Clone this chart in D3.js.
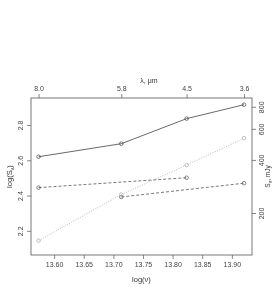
<!DOCTYPE html>
<html>
<head>
<meta charset="utf-8">
<script src="https://cdn.jsdelivr.net/npm/d3@7"></script>
<style>
  body { margin: 0; background: #fff; }
  svg { font-family: "Liberation Sans", Arial, sans-serif; will-change: transform; -webkit-font-smoothing: antialiased; }
</style>
</head>
<body>
<svg id="chart" width="275" height="287"></svg>
<script>
// IRAC bands, wavelength in micron
const bands = [8.0, 5.8, 4.5, 3.6];
const C_UM = 2.998e14; // speed of light, micron/s

// log(S_nu) per series, null where a band has no point
const solidSeries = [2.620, 2.694, 2.836, 2.915];
const dottedSeries = [2.144, 2.406, 2.573, 2.725];
const dashedA = [2.445, null, 2.501, null];
const dashedB = [null, 2.392, null, 2.470];

const xTicks = [13.60, 13.65, 13.70, 13.75, 13.80, 13.85, 13.90];
const yTicks = [2.2, 2.4, 2.6, 2.8];
const fluxTicks = [200, 400, 600, 800];

const svg = d3.select('#chart');
const mLeft = 31, mRight = 252, mTop = 98, mBottom = 255;

const xScale = d3.scaleLinear().domain([13.561, 13.934]).range([mLeft, mRight]);
const yScale = d3.scaleLinear().domain([2.063, 2.953]).range([mBottom, mTop]);

const logNu = (lam) => Math.log10(C_UM / lam);
const axisColor = '#555';
const fontSize = 7;

// Bottom axis
const bottomAxis = svg.append('g')
  .attr('transform', `translate(0, ${mBottom})`)
  .call(d3.axisBottom(xScale).tickValues(xTicks).tickFormat(d3.format('.2f')).tickSize(4).tickPadding(3));

// Left axis, labels parallel to the axis
const leftAxis = svg.append('g')
  .attr('transform', `translate(${mLeft}, 0)`)
  .call(d3.axisLeft(yScale).tickValues(yTicks).tickFormat(d3.format('.1f')).tickSize(4).tickPadding(3));
leftAxis.selectAll('.tick text')
  .attr('x', 0)
  .attr('text-anchor', 'middle')
  .attr('transform', 'translate(-10, 0) rotate(-90)')
  .attr('dy', '0.35em');

// Top axis (wavelength)
const topAxis = svg.append('g')
  .attr('transform', `translate(0, ${mTop})`)
  .call(d3.axisTop(xScale)
    .tickValues(bands.map(logNu))
    .tickFormat((d, i) => bands[i].toFixed(1))
    .tickSize(4).tickPadding(3));

// Right axis (flux, mJy)
const rightAxis = svg.append('g')
  .attr('transform', `translate(${mRight}, 0)`)
  .call(d3.axisRight(yScale).tickValues(fluxTicks.map(Math.log10))
    .tickFormat((d, i) => fluxTicks[i]).tickSize(4).tickPadding(3));
rightAxis.selectAll('.tick text')
  .attr('x', 0)
  .attr('text-anchor', 'middle')
  .attr('transform', 'translate(10, 0) rotate(-90)')
  .attr('dy', '0.35em');

[bottomAxis, leftAxis, topAxis, rightAxis].forEach((g) => {
  g.attr('font-size', fontSize).attr('font-family', null);
  g.selectAll('.domain').remove();
  g.selectAll('.tick line').attr('stroke', axisColor).attr('stroke-width', 0.7);
  g.selectAll('.tick text').attr('fill', '#444');
});

// Frame
svg.append('rect')
  .attr('x', mLeft).attr('y', mTop)
  .attr('width', mRight - mLeft).attr('height', mBottom - mTop)
  .attr('fill', 'none').attr('stroke', axisColor).attr('stroke-width', 0.8);

// Axis titles
svg.append('text')
  .attr('x', (mLeft + mRight) / 2).attr('y', 282)
  .attr('text-anchor', 'middle').attr('font-size', 7.5).attr('fill', '#333')
  .text('log(ν)');
svg.append('text')
  .attr('x', 149).attr('y', 83)
  .attr('text-anchor', 'middle').attr('font-size', 7).attr('fill', '#333')
  .text('λ, μm');
svg.append('text')
  .attr('transform', `translate(12, ${(mTop + mBottom) / 2}) rotate(-90)`)
  .attr('text-anchor', 'middle').attr('font-size', 7.5).attr('fill', '#333')
  .html('log(S<tspan font-size="5.5" dy="2">ν</tspan><tspan dy="-2">)</tspan>');
svg.append('text')
  .attr('transform', `translate(270, ${(mTop + mBottom) / 2}) rotate(-90)`)
  .attr('text-anchor', 'middle').attr('font-size', 6.5).attr('fill', '#333')
  .html('S<tspan font-size="5" dy="1.5">ν</tspan><tspan dy="-1.5">, mJy</tspan>');

// Series
const series = [
  { values: solidSeries, color: '#444', dash: null },
  { values: dashedA, color: '#555', dash: '3,2' },
  { values: dashedB, color: '#555', dash: '3,2' },
  { values: dottedSeries, color: '#aaa', dash: '1,1.5' }
];

const line = d3.line()
  .x((d) => xScale(logNu(d.lam)))
  .y((d) => yScale(d.v));

series.forEach((s) => {
  const pts = bands.map((lam, i) => ({ lam, v: s.values[i] })).filter((d) => d.v !== null);
  svg.append('path')
    .datum(pts)
    .attr('d', line)
    .attr('fill', 'none')
    .attr('stroke', s.color)
    .attr('stroke-width', 0.8)
    .attr('stroke-dasharray', s.dash);
  svg.selectAll(null)
    .data(pts)
    .enter()
    .append('circle')
      .attr('cx', (d) => xScale(logNu(d.lam)))
      .attr('cy', (d) => yScale(d.v))
      .attr('r', 1.8)
      .attr('fill', 'none')
      .attr('stroke', s.color)
      .attr('stroke-width', 0.7);
});
</script>
</body>
</html>
